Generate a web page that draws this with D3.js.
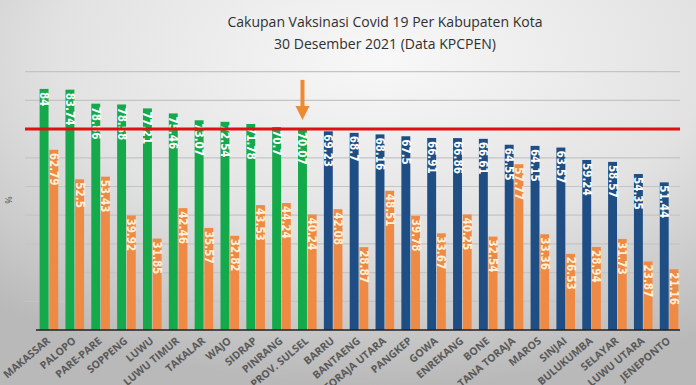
<!DOCTYPE html>
<html>
<head>
<meta charset="utf-8">
<script src="https://cdn.jsdelivr.net/npm/d3@7"></script>
<style>
  html, body { margin: 0; padding: 0; background: #d9d9d9; }
  svg { display: block; }
</style>
</head>
<body>
<script>
// data
const categories = ["MAKASSAR", "PALOPO", "PARE-PARE", "SOPPENG", "LUWU", "LUWU TIMUR", "TAKALAR", "WAJO",
  "SIDRAP", "PINRANG", "PROV. SULSEL", "BARRU", "BANTAENG", "TORAJA UTARA", "PANGKEP", "GOWA", "ENREKANG",
  "BONE", "TANA TORAJA", "MAROS", "SINJAI", "BULUKUMBA", "SELAYAR", "LUWU UTARA", "JENEPONTO"];
const dosis1 = [84, 83.74, 78.86, 78.58, 77.21, 75.46, 73.07, 72.54, 71.78, 70.7, 70.07,
  69.23, 68.7, 68.16, 67.5, 66.91, 66.86, 66.61, 64.55, 64.15, 63.57, 59.24, 58.57, 54.35, 51.44];
const dosis2 = [62.79, 52.5, 53.43, 39.92, 31.85, 42.46, 35.57, 32.82, 43.53, 44.24, 40.24,
  42.08, 28.87, 48.51, 39.78, 33.67, 40.25, 32.54, 57.77, 33.36, 26.53, 28.94, 31.73, 23.87, 21.16];
const target = 70;
const yTicks = [10, 20, 30, 40, 50, 60, 70, 80, 90];
const titleLines = ["Cakupan Vaksinasi Covid 19 Per Kabupaten Kota", "30 Desember 2021 (Data KPCPEN)"];
const highlight = "PROV. SULSEL";

const width = 696, height = 385;
const green = "#14a94b", blue = "#1f4e84", orange = "#ef8a45";

const svg = d3.select("body").append("svg")
  .attr("width", width)
  .attr("height", height);

// gray vignette background
const defs = svg.append("defs");
const grad = defs.append("radialGradient")
  .attr("id", "bg")
  .attr("cx", "55%").attr("cy", "15%").attr("r", "85%");
grad.append("stop").attr("offset", "0%").attr("stop-color", "#f8f8f8");
grad.append("stop").attr("offset", "55%").attr("stop-color", "#e2e2e2");
grad.append("stop").attr("offset", "100%").attr("stop-color", "#b9b9b9");
svg.append("rect").attr("width", width).attr("height", height).attr("fill", "url(#bg)");

// scales
const x = d3.scaleBand().domain(categories).range([36, 682]).paddingInner(0.28).paddingOuter(0.14);
const inner = d3.scaleBand().domain(["d1", "d2"]).range([0, x.bandwidth()]).paddingInner(0.08);
const y = d3.scaleLinear().domain([0, 90]).range([330, 71.7]);

// title
svg.append("g").selectAll("text")
  .data(titleLines)
  .join("text")
  .attr("x", 385)
  .attr("y", (d, i) => 27 + i * 22)
  .attr("text-anchor", "middle")
  .attr("font-family", "'Open Sans', sans-serif")
  .attr("font-size", 14)
  .attr("fill", "#303030")
  .text(d => d);

// gridlines
svg.append("g").selectAll("line")
  .data(yTicks)
  .join("line")
  .attr("x1", 25).attr("x2", 680)
  .attr("y1", d => y(d)).attr("y2", d => y(d))
  .attr("stroke", "#c4c4c4")
  .attr("stroke-width", 1.2);

// y axis label
svg.append("text")
  .attr("transform", "translate(12,200) rotate(-90)")
  .attr("text-anchor", "middle")
  .attr("font-family", "'Open Sans', sans-serif")
  .attr("font-size", 9)
  .attr("fill", "#555")
  .text("%");

const firstColor = (i) => i <= categories.indexOf(highlight) ? green : blue;

const groups = svg.append("g").selectAll("g")
  .data(categories)
  .join("g")
  .attr("transform", d => `translate(${x(d)},0)`);

// bars
groups.append("rect")
  .attr("x", inner("d1"))
  .attr("width", inner.bandwidth())
  .attr("y", (d, i) => y(dosis1[i]))
  .attr("height", (d, i) => y(0) - y(dosis1[i]))
  .attr("fill", (d, i) => firstColor(i));

groups.append("rect")
  .attr("x", inner("d2"))
  .attr("width", inner.bandwidth())
  .attr("y", (d, i) => y(dosis2[i]))
  .attr("height", (d, i) => y(0) - y(dosis2[i]))
  .attr("fill", orange);

// value labels, rotated, reading downward from bar top
const labelFont = "'DejaVu Sans Condensed', 'DejaVu Sans', sans-serif";
groups.append("text")
  .attr("transform", (d, i) => `translate(${inner("d1") + inner.bandwidth() / 2},${y(dosis1[i]) + 3}) rotate(90)`)
  .attr("dominant-baseline", "central")
  .attr("font-family", labelFont)
  .attr("font-weight", "bold")
  .attr("font-size", 11.5)
  .attr("fill", "#ffffff")
  .text((d, i) => dosis1[i]);

groups.append("text")
  .attr("transform", (d, i) => `translate(${inner("d2") + inner.bandwidth() / 2},${y(dosis2[i]) + 3}) rotate(90)`)
  .attr("dominant-baseline", "central")
  .attr("font-family", labelFont)
  .attr("font-weight", "bold")
  .attr("font-size", 11.5)
  .attr("fill", "#fdf0d8")
  .text((d, i) => dosis2[i]);

// target line
svg.append("line")
  .attr("x1", 25).attr("x2", 680)
  .attr("y1", y(target)).attr("y2", y(target))
  .attr("stroke", "#e01010")
  .attr("stroke-width", 3);

// baseline
svg.append("line")
  .attr("x1", 36).attr("x2", 680)
  .attr("y1", y(0)).attr("y2", y(0))
  .attr("stroke", "#222")
  .attr("stroke-width", 1.5);

// category labels (the long ones run off the bottom edge, as in the source image)
svg.append("g").selectAll("text")
  .data(categories)
  .join("text")
  .attr("transform", d => `translate(${x(d) + x.bandwidth() / 2 + 2},342) rotate(-40)`)
  .attr("text-anchor", "end")
  .attr("font-family", "'Open Sans', sans-serif")
  .attr("font-weight", "bold")
  .attr("font-size", 10.5)
  .attr("fill", "#5a5a5a")
  .text(d => d);

// arrow pointing at the province bar
const ax = x(highlight) + inner("d1") + inner.bandwidth() / 2;
const tip = y(dosis1[categories.indexOf(highlight)]) - 9;
const arrow = svg.append("g").attr("fill", "#f08a30");
arrow.append("rect").attr("x", ax - 2).attr("y", tip - 40).attr("width", 4).attr("height", 28);
arrow.append("path")
  .attr("d", `M${ax - 7},${tip - 14} L${ax + 7},${tip - 14} L${ax},${tip} Z`);
</script>
</body>
</html>
